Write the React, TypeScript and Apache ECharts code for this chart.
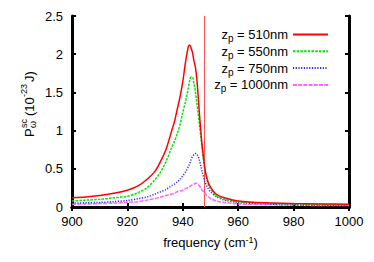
import React, { useEffect, useRef } from "react";
import * as echarts from "echarts";

const freq = [900, 905, 910, 915, 920, 924, 927, 930, 932, 934, 936, 937, 938, 939, 940, 941, 942, 942.5, 943, 943.5, 944, 944.5, 945, 945.5, 946, 946.5, 947, 948, 949, 950, 952, 955, 960, 970, 980, 990, 1000];

const z510 = [0.12, 0.13, 0.15, 0.18, 0.22, 0.28, 0.36, 0.47, 0.6, 0.76, 1.0, 1.12, 1.28, 1.44, 1.64, 1.9, 2.1, 2.12, 2.08, 2.02, 1.92, 1.84, 1.7, 1.48, 1.22, 1.0, 0.8, 0.5, 0.34, 0.26, 0.17, 0.12, 0.08, 0.055, 0.045, 0.04, 0.035];
const z550 = [0.08, 0.09, 0.1, 0.12, 0.14, 0.19, 0.25, 0.36, 0.46, 0.6, 0.78, 0.86, 0.96, 1.08, 1.24, 1.38, 1.56, 1.66, 1.7, 1.7, 1.62, 1.52, 1.38, 1.24, 1.08, 0.92, 0.76, 0.48, 0.32, 0.24, 0.15, 0.1, 0.07, 0.05, 0.04, 0.035, 0.03];
const z750 = [0.05, 0.055, 0.06, 0.07, 0.085, 0.11, 0.13, 0.17, 0.2, 0.23, 0.28, 0.3, 0.33, 0.36, 0.41, 0.46, 0.53, 0.57, 0.62, 0.66, 0.685, 0.7, 0.695, 0.665, 0.61, 0.54, 0.46, 0.33, 0.25, 0.2, 0.14, 0.09, 0.06, 0.04, 0.03, 0.025, 0.02];
const z1000 = [0.035, 0.04, 0.045, 0.05, 0.06, 0.07, 0.09, 0.11, 0.13, 0.15, 0.17, 0.18, 0.2, 0.21, 0.22, 0.24, 0.26, 0.27, 0.28, 0.29, 0.3, 0.308, 0.31, 0.295, 0.275, 0.25, 0.22, 0.18, 0.14, 0.11, 0.08, 0.06, 0.04, 0.03, 0.025, 0.02, 0.02];

const seriesNames = ["510nm", "550nm", "750nm", "1000nm"];
const seriesValues = [z510, z550, z750, z1000];
const seriesColors = ["#ff0000", "#00e600", "#2a2aff", "#ff66ff"];
const seriesDash: any[] = ["solid", [2.5, 1.2], [1.2, 1.5], [4, 1.2]];
const resonance = 947.7;

const FONT = "Liberation Sans, Arial, sans-serif";

export default function App() {
  const ref = useRef<HTMLDivElement>(null);
  useEffect(() => {
    if (!ref.current) return;
    const chart = echarts.init(ref.current, null, { renderer: "svg" });
    const axisCommon = {
      axisLine: { show: true, lineStyle: { color: "#000", width: 3 } },
      splitLine: { show: false },
    };
    const series: any[] = seriesNames.map((n, i) => ({
      name: n,
      type: "line",
      xAxisIndex: 0,
      yAxisIndex: 0,
      showSymbol: false,
      symbol: "none",
      smooth: 0.3,
      data: freq.map((f, j) => [f, seriesValues[i][j]]),
      lineStyle: { color: seriesColors[i], width: 1.5, type: seriesDash[i] },
      itemStyle: { color: seriesColors[i] },
      z: 10 - i,
      markLine:
        i === 0
          ? {
              silent: true,
              symbol: "none",
              label: { show: false },
              lineStyle: { color: "#ff5050", width: 1, type: "solid" },
              data: [{ xAxis: resonance }],
            }
          : undefined,
    }));
    chart.setOption({
      animation: false,
      textStyle: { fontFamily: FONT },
      grid: { left: 72, top: 16, right: 25, bottom: 55 },
      legend: {
        orient: "vertical",
        right: 40,
        top: 23,
        align: "right",
        itemWidth: 35,
        itemHeight: 12,
        itemGap: 1.3,
        data: seriesNames,
        itemStyle: { opacity: 0 },
        formatter: (name: string) => `{a|z}{s|p}{a| = ${name}}`,
        textStyle: {
          fontFamily: FONT,
          fontSize: 13,
          color: "#000",
          rich: {
            a: { fontSize: 13, fontFamily: FONT, color: "#000", lineHeight: 18, verticalAlign: "middle" },
            s: { fontSize: 10, fontFamily: FONT, color: "#000", lineHeight: 10, verticalAlign: "bottom" },
          },
        },
      },
      xAxis: [
        {
          type: "value",
          min: 900,
          max: 1000,
          interval: 20,
          position: "bottom",
          ...axisCommon,
          axisTick: { show: true, inside: true, length: 4, lineStyle: { color: "#000", width: 2 } },
          axisLabel: { color: "#000", fontSize: 13, margin: 8, fontFamily: FONT, formatter: (v: number) => String(v) },
          name: "frequency (cm{sup|-1})",
          nameLocation: "middle",
          nameGap: 28,
          nameTextStyle: {
            color: "#000",
            fontSize: 13,
            fontFamily: FONT,
            rich: { sup: { fontSize: 9, verticalAlign: "top", padding: [0, 0, 6, 0], color: "#000", fontFamily: FONT } },
          },
        },
        {
          type: "value",
          min: 900,
          max: 1000,
          interval: 20,
          position: "top",
          ...axisCommon,
          axisTick: { show: true, inside: true, length: 4, lineStyle: { color: "#000", width: 2 } },
          axisLabel: { show: false },
        },
      ],
      yAxis: [
        {
          type: "value",
          min: 0,
          max: 2.5,
          interval: 0.5,
          position: "left",
          ...axisCommon,
          axisTick: { show: true, inside: true, length: 4, lineStyle: { color: "#000", width: 2 } },
          axisLabel: { color: "#000", fontSize: 13, margin: 9, fontFamily: FONT },
        },
        {
          type: "value",
          min: 0,
          max: 2.5,
          interval: 0.5,
          position: "right",
          ...axisCommon,
          axisTick: { show: true, inside: true, length: 4, lineStyle: { color: "#000", width: 2 } },
          axisLabel: { show: false },
        },
      ],
      graphic: [
        {
          type: "group",
          x: 29,
          y: 137,
          rotation: Math.PI / 2,
          children: [
            { type: "text", x: 0, y: 0, style: { text: "P", fontSize: 13, fontFamily: FONT, fill: "#000", verticalAlign: "middle" } },
            { type: "text", x: 9, y: 4, style: { text: "ω", fontSize: 9, fontFamily: FONT, fill: "#000", verticalAlign: "middle" } },
            { type: "text", x: 9, y: -5, style: { text: "sc", fontSize: 9, fontFamily: FONT, fill: "#000", verticalAlign: "middle" } },
            { type: "text", x: 21, y: 0, style: { text: "(10", fontSize: 13, fontFamily: FONT, fill: "#000", verticalAlign: "middle" } },
            { type: "text", x: 40, y: -5, style: { text: "-23", fontSize: 9, fontFamily: FONT, fill: "#000", verticalAlign: "middle" } },
            { type: "text", x: 55, y: 0, style: { text: "J)", fontSize: 13, fontFamily: FONT, fill: "#000", verticalAlign: "middle" } },
          ],
        },
      ],
      series,
    });
    return () => chart.dispose();
  }, []);
  return <div ref={ref} style={{ width: 374, height: 262, position: "absolute", left: 0, top: 0, background: "#fff" }} />;
}
